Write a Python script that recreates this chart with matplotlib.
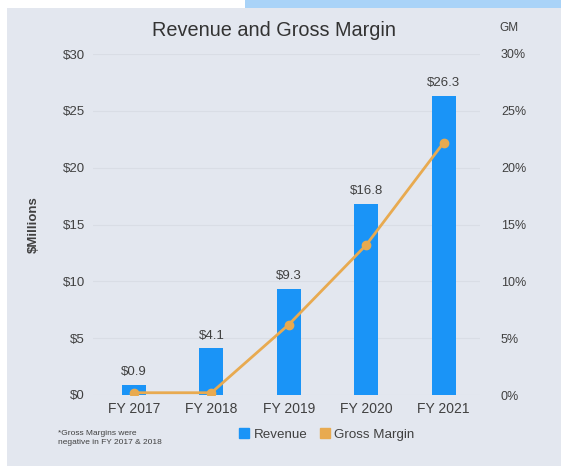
import matplotlib.pyplot as plt
from matplotlib.patches import Rectangle
from matplotlib.lines import Line2D

plt.rcParams['font.family'] = ['Liberation Sans', 'DejaVu Sans']

years = ["FY 2017", "FY 2018", "FY 2019", "FY 2020", "FY 2021"]
revenue = [0.9, 4.1, 9.3, 16.8, 26.3]
gross_margin = [0.2, 0.2, 6.2, 13.2, 22.2]
left_ticks = [0, 5, 10, 15, 20, 25, 30]
right_ticks = [0, 5, 10, 15, 20, 25, 30]

bar_color = "#1a94f7"
line_color = "#e8aa50"
panel_color = "#e3e7ef"
text_color = "#404040"

fig = plt.figure(figsize=(5.61, 4.66), dpi=100)
fig.patch.set_facecolor("white")

# background panel and the strip at the top
fig.add_artist(Rectangle((7 / 561, 0), 1, 1 - 8 / 466, transform=fig.transFigure,
                         facecolor=panel_color, edgecolor="none", zorder=-10))
fig.add_artist(Rectangle((245 / 561, 1 - 8 / 466), 1, 8 / 466, transform=fig.transFigure,
                         facecolor="#a9d3f8", edgecolor="none", zorder=-10))

ax = fig.add_axes([93 / 561, 71 / 466, 387 / 561, 341 / 466])
ax.set_facecolor("none")
x = range(len(years))
ax.bar(x, revenue, width=0.31, color=bar_color, zorder=2)
for xi, v in zip(x, revenue):
    ax.text(xi, v + 0.6, f"${v}", ha="center", va="bottom", fontsize=9.5, color=text_color)

ax.set_xlim(-0.53, 4.47)
ax.set_ylim(0, 30)
ax.set_yticks(left_ticks)
ax.set_yticklabels([f"${t}" for t in left_ticks])
ax.set_xticks(list(x))
ax.set_xticklabels(years, fontsize=10, color=text_color)
ax.tick_params(axis="y", length=0, pad=6, labelsize=9.5, labelcolor=text_color)
ax.tick_params(axis="x", length=0, pad=5)
ax.grid(axis="y", color="#d9dde5", linewidth=0.8, zorder=0)
for s in ax.spines.values():
    s.set_visible(False)
ax.set_ylabel("$Millions", fontsize=9.5, fontweight="bold", color=text_color, labelpad=16)

ax2 = ax.twinx()
ax2.plot(x, gross_margin, color=line_color, linewidth=2, marker="o", markersize=6, zorder=3)
ax2.set_ylim(0, 30)
ax2.set_yticks(right_ticks)
ax2.set_yticklabels([f"{t}%" for t in right_ticks])
ax2.tick_params(axis="y", length=0, pad=15, labelsize=9, labelcolor=text_color)
for s in ax2.spines.values():
    s.set_visible(False)

fig.text(274 / 561, 1 - 30 / 466, "Revenue and Gross Margin", ha="center", va="center",
         fontsize=14.3, color="#333333")
fig.text(509 / 561, 1 - 28 / 466, "GM", ha="center", va="center", fontsize=8.5, color=text_color)

fig.text(58 / 561, 1 - 438 / 466, "*Gross Margins were\nnegative in FY 2017 & 2018",
         ha="left", va="center", fontsize=6, color=text_color, linespacing=1.3)

handles = [Line2D([], [], marker="s", linestyle="none", color=bar_color, markersize=7),
           Line2D([], [], marker="s", linestyle="none", color=line_color, markersize=7)]
fig.legend(handles, ["Revenue", "Gross Margin"], loc="center", bbox_to_anchor=(326 / 561, 1 - 435 / 466),
           ncol=2, frameon=False, fontsize=9.6, handletextpad=0.2, columnspacing=0.8,
           labelcolor=text_color, handlelength=1)

fig.savefig("out.png", dpi=100)
